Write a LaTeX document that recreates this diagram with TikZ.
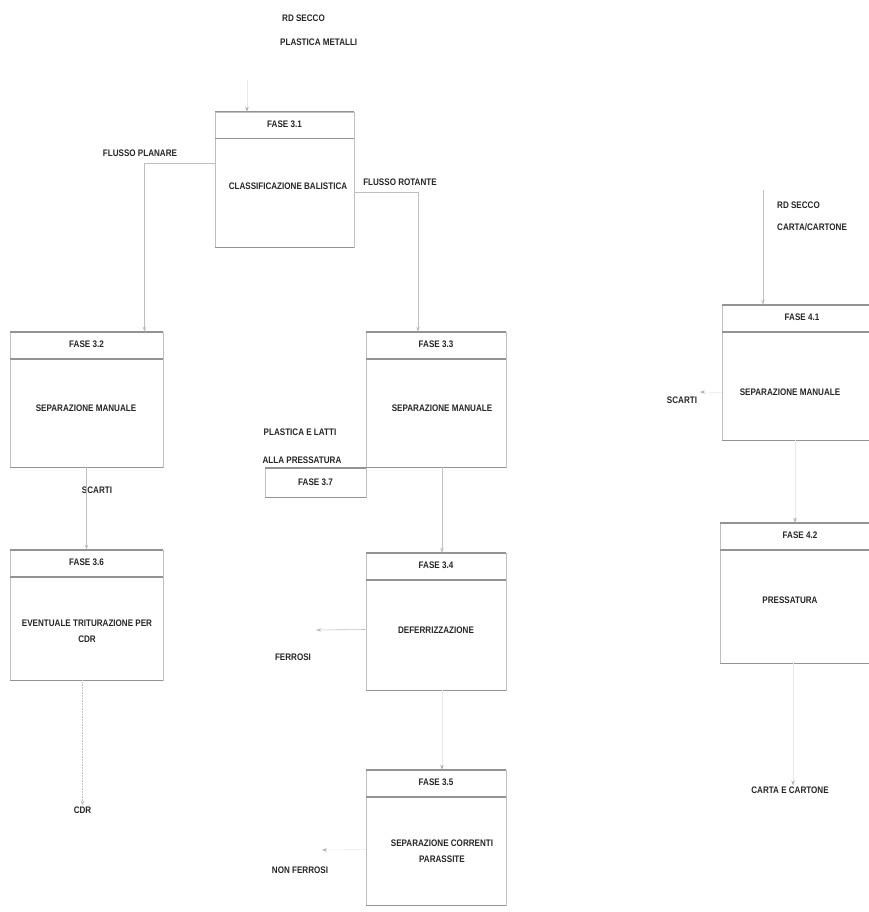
\documentclass[tikz,border=0pt]{standalone}
\usepackage{fontspec}
\newfontfamily\schemafont{Liberation Sans}[FakeStretch=0.85]
\usetikzlibrary{arrows.meta,positioning,shapes}

\tikzset{
  fasebox/.style={draw=gray!50,line width=0.6pt,rectangle,inner sep=0pt},
  hdr/.style={draw=gray!85,line width=1.6pt},
  lbl/.style={font=\schemafont\bfseries\fontsize{9.5}{10}\selectfont,text=black!85,inner sep=1pt,align=center},
  flow/.style={draw=gray!50,line width=0.6pt,-{Stealth[length=5pt,width=3.5pt]}},
  faint/.style={draw=gray!18,line width=0.5pt,-{Stealth[length=5pt,width=3.5pt,color=gray!60,fill=gray!60]}}
}

\begin{document}
\begin{tikzpicture}[x=1pt,y=-1pt]
\useasboundingbox[fill=white] (0,0) rectangle (869,912);

% fasi
\node[fasebox,minimum width=139,minimum height=135] (f31) at (284.5,179.5) {};
\node[fasebox,minimum width=153,minimum height=135] (f32) at (86.5,399.5) {};
\node[fasebox,minimum width=140,minimum height=135] (f33) at (436,399.5) {};
\node[fasebox,minimum width=101,minimum height=29] (f37) at (315.5,482.5) {};
\node[fasebox,minimum width=153,minimum height=130] (f36) at (86.5,615) {};
\node[fasebox,minimum width=140,minimum height=137] (f34) at (436,621.5) {};
\node[fasebox,minimum width=140,minimum height=135] (f35) at (436,837.5) {};
\node[fasebox,minimum width=160,minimum height=135] (f41) at (802,372.5) {};
\node[fasebox,minimum width=160,minimum height=140] (f42) at (800,593) {};

\foreach \b in {f31,f32,f33,f36,f34,f35,f41,f42}{
  \draw[hdr] (\b.north west) -- (\b.north east);
  \draw[hdr] ([yshift=-27pt]\b.north west) -- ([yshift=-27pt]\b.north east);
  \draw[hdr] (\b.south west) -- (\b.south east);
}
\draw[hdr] (f37.north west) -- (f37.north east);
\draw[hdr] (f37.south west) -- (f37.south east);

\node[lbl] at ([yshift=-13pt]f31.north) {FASE 3.1};
\node[lbl] at ([yshift=-13pt]f32.north) {FASE 3.2};
\node[lbl] at ([yshift=-13pt]f33.north) {FASE 3.3};
\node[lbl] at (f37) {FASE 3.7};
\node[lbl] at ([yshift=-13pt]f36.north) {FASE 3.6};
\node[lbl] at ([yshift=-13pt]f34.north) {FASE 3.4};
\node[lbl] at ([yshift=-13pt]f35.north) {FASE 3.5};
\node[lbl] at ([yshift=-13pt]f41.north) {FASE 4.1};
\node[lbl] at ([yshift=-13pt]f42.north) {FASE 4.2};

\node[lbl] (t31) at (288,186) {CLASSIFICAZIONE BALISTICA};
\node[lbl] (t32) at (86,408) {SEPARAZIONE MANUALE};
\node[lbl] (t33) at (442,408) {SEPARAZIONE MANUALE};
\node[lbl] (t36) at (87,631) {EVENTUALE TRITURAZIONE PER\\[6pt] CDR};
\node[lbl] (t34) at (436,630) {DEFERRIZZAZIONE};
\node[lbl] (t35) at (442,851) {SEPARAZIONE CORRENTI\\[6pt] PARASSITE};
\node[lbl] (t41) at (790,392) {SEPARAZIONE MANUALE};
\node[lbl] (t42) at (790,600) {PRESSATURA};

% ingressi e uscite
\node[lbl,anchor=west] (rd1) at (281,18) {RD SECCO};
\node[lbl,anchor=west] (rd2) at (279,42) {PLASTICA METALLI};
\node[lbl] (planare) at (140,153) {FLUSSO PLANARE};
\node[lbl] (rotante) at (400,182) {FLUSSO ROTANTE};
\node[lbl] (plast) at (300,432) {PLASTICA E LATTI};
\node[lbl] (press) at (302,460) {ALLA PRESSATURA};
\node[lbl] (scarti1) at (97,490) {SCARTI};
\node[lbl] (ferrosi) at (293,657) {FERROSI};
\node[lbl] (cdr) at (82.5,810) {CDR};
\node[lbl] (nonfe) at (300,870) {NON FERROSI};
\node[lbl,anchor=west] (rd3) at (776,205) {RD SECCO};
\node[lbl,anchor=west] (rd4) at (776,227) {CARTA/CARTONE};
\node[lbl] (scarti2) at (682,400) {SCARTI};
\node[lbl] (carta) at (790,790) {CARTA E CARTONE};

\coordinate (in31) at (247,80);
\coordinate (in41) at (763,190);
\coordinate (fe) at (316,630);
\coordinate (nfe) at (322,850);
\coordinate (sc2) at (700,392);

% flussi
\draw[faint] (in31) -- (in31 |- f31.north);
\draw[flow] ([yshift=16pt]f31.west) -| ([xshift=58pt]f32.north);
\draw[flow] ([yshift=-13pt]f31.east) -| ([xshift=-18pt]f33.north);
\draw[flow] (f32.south) -- (f36.north);
\draw[flow] ([xshift=6pt]f33.south) -- ([xshift=6pt]f34.north);
\draw[flow] ([yshift=-8pt]f34.west) -- (fe);
\draw[faint] ([xshift=6pt]f34.south) -- ([xshift=6pt]f35.north);
\draw[flow,densely dotted] (cdr.north |- f36.south) -- (cdr.north);
\draw[faint] ([yshift=-12pt]f35.west) -- (nfe);
\draw[flow] (in41) -- (in41 |- f41.north);
\draw[faint] ([yshift=-20pt]f41.west) -- (sc2);
\draw[faint] ([xshift=-7pt]f41.south) -- ([xshift=-5pt]f42.north);
\draw[faint] ([xshift=-7pt]f42.south) -- (carta.north -| 793,0);
\end{tikzpicture}
\end{document}
